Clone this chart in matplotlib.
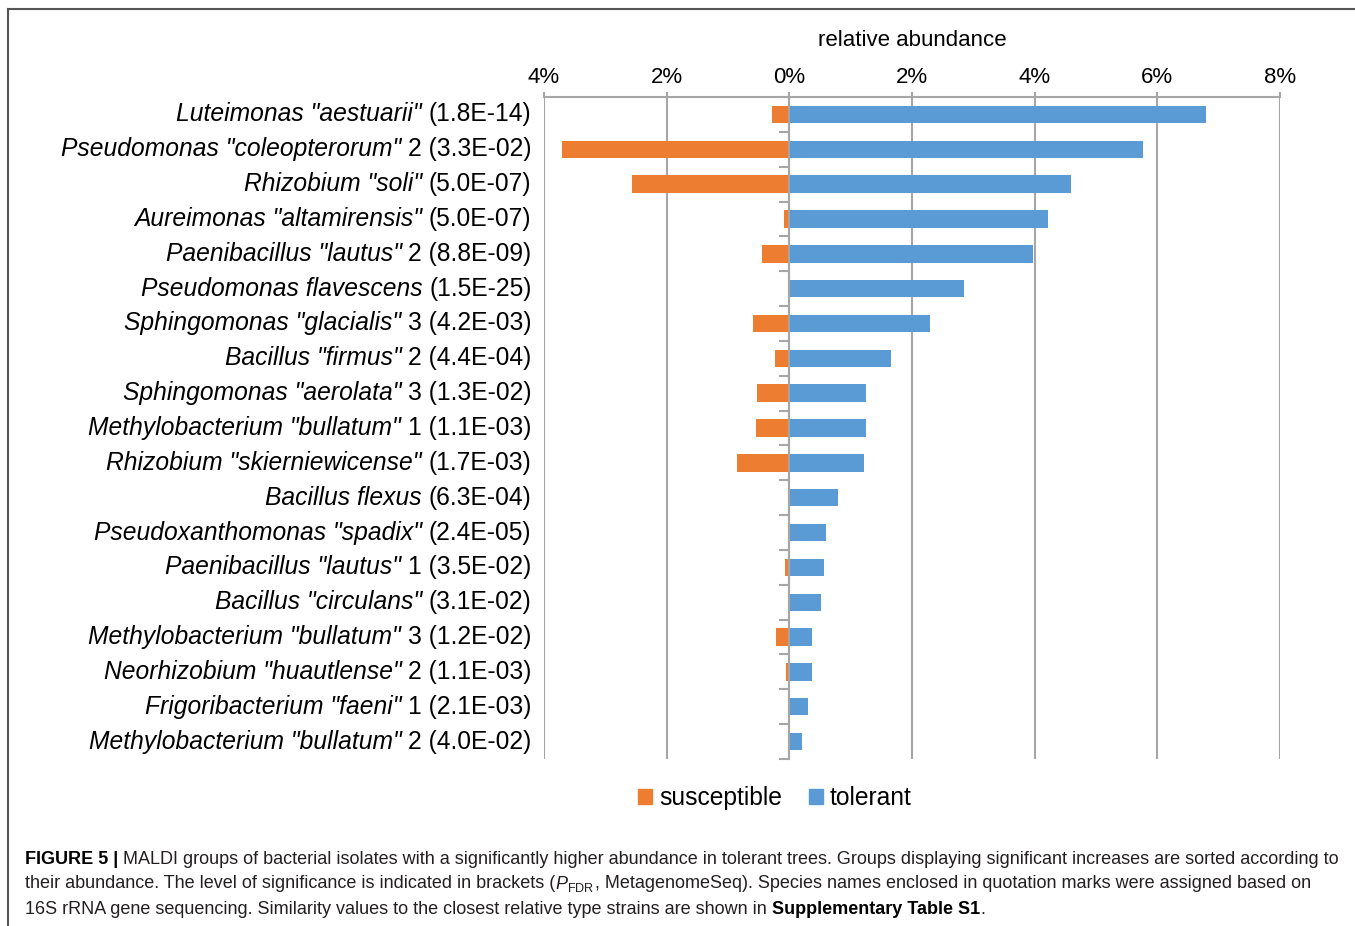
import numpy as np
import matplotlib
matplotlib.use("Agg")
import matplotlib.pyplot as plt
from matplotlib.font_manager import FontProperties
from matplotlib.patches import Patch
from matplotlib.lines import Line2D
from matplotlib.ticker import FuncFormatter, FixedLocator
from matplotlib.transforms import offset_copy

plt.rcParams['font.family'] = ['Liberation Sans', 'DejaVu Sans']
plt.rcParams['mathtext.fontset'] = 'custom'
plt.rcParams['mathtext.rm'] = 'Liberation Sans'
plt.rcParams['mathtext.it'] = 'Liberation Sans:italic'
plt.rcParams['mathtext.bf'] = 'Liberation Sans:bold'

# MALDI groups, top to bottom
names = ['Luteimonas "aestuarii"', 'Pseudomonas "coleopterorum"', 'Rhizobium "soli"',
         'Aureimonas "altamirensis"', 'Paenibacillus "lautus"', 'Pseudomonas flavescens',
         'Sphingomonas "glacialis"', 'Bacillus "firmus"', 'Sphingomonas "aerolata"',
         'Methylobacterium "bullatum"', 'Rhizobium "skierniewicense"', 'Bacillus flexus',
         'Pseudoxanthomonas "spadix"', 'Paenibacillus "lautus"', 'Bacillus "circulans"',
         'Methylobacterium "bullatum"', 'Neorhizobium "huautlense"', 'Frigoribacterium "faeni"',
         'Methylobacterium "bullatum"']
group_no = ['', '2', '', '', '2', '', '3', '2', '3', '1', '', '', '', '1', '', '3', '2', '1', '2']
p_fdr = ['1.8E-14', '3.3E-02', '5.0E-07', '5.0E-07', '8.8E-09', '1.5E-25', '4.2E-03',
         '4.4E-04', '1.3E-02', '1.1E-03', '1.7E-03', '6.3E-04', '2.4E-05', '3.5E-02',
         '3.1E-02', '1.2E-02', '1.1E-03', '2.1E-03', '4.0E-02']

# relative abundance in %
tolerant = [6.80, 5.77, 4.60, 4.21, 3.98, 2.84, 2.30, 1.65, 1.25, 1.25, 1.22, 0.79,
            0.59, 0.56, 0.51, 0.37, 0.37, 0.30, 0.21]
susceptible = [0.28, 3.70, 2.56, 0.08, 0.44, 0.0, 0.59, 0.23, 0.52, 0.54, 0.86, 0.0,
               0.0, 0.07, 0.0, 0.22, 0.05, 0.0, 0.0]

x_ticks = [-4, -2, 0, 2, 4, 6, 8]

ORANGE = '#ED7D31'
BLUE = '#5B9BD5'
GRID = '#a6a6a6'
FS = 16
FS_LAB = 17.7

W, H = 1355, 926
fig = plt.figure(figsize=(W / 100, H / 100), dpi=100)
ax = fig.add_axes([544 / W, 1 - 759 / H, (1280 - 544) / W, (759 - 97) / H])

y = np.arange(len(names))
ax.barh(y, tolerant, height=0.5, color=BLUE, zorder=3)
ax.barh(y, -np.array(susceptible), height=0.5, color=ORANGE, zorder=3)

ax.set_xlim(-4, 8)
ax.set_ylim(len(names) - 0.5, -0.5)

# percent axis on top, shown as absolute values
ax.xaxis.tick_top()
ax.xaxis.set_label_position('top')
ax.set_xticks(x_ticks)
ax.xaxis.set_major_formatter(FuncFormatter(lambda v, _: f'{abs(v):.0f}%'))
ax.tick_params(axis='x', direction='out', length=3.5, width=1.5, color=GRID,
               labelsize=FS, pad=3)
ax.set_xlabel('relative abundance', fontsize=FS, labelpad=15)
ax.grid(axis='x', color=GRID, linewidth=1.5, zorder=0)

# category axis sits on the 0% line with ticks between groups
for side in ['right', 'bottom']:
    ax.spines[side].set_visible(False)
ax.spines['left'].set_position(('data', 0))
ax.spines['left'].set_color(GRID)
ax.spines['left'].set_linewidth(1.5)
ax.spines['left'].set_zorder(4)
ax.spines['top'].set_color(GRID)
ax.spines['top'].set_linewidth(1.5)
ax.yaxis.set_major_locator(FixedLocator([]))
ax.yaxis.set_minor_locator(FixedLocator(np.arange(len(names) + 1) - 0.5))
ax.tick_params(axis='y', which='minor', direction='out', length=7, width=1.5, color=GRID)

renderer = fig.canvas.get_renderer()


def text_w(s, fp, math=False):
    # width in points
    return renderer.get_text_width_height_descent(s, fp, ismath=math)[0] * 72 / fig.dpi


fp_norm = FontProperties(family='Liberation Sans', size=FS_LAB)
fp_ital = FontProperties(family='Liberation Sans', style='italic', size=FS_LAB)
space_pt = text_w('x x', fp_norm) - text_w('xx', fp_norm)

# row labels: italic species name, then group number and P value
base = ax.get_yaxis_transform()
for i, (nm, g, p) in enumerate(zip(names, group_no, p_fdr)):
    tail = (g + ' ' if g else '') + f'({p})'
    tr = offset_copy(base, fig=fig, x=-9, y=0, units='points')
    ax.text(0, i, tail, transform=tr, ha='right', va='center', fontproperties=fp_norm)
    dx = -9 - text_w(tail, fp_norm) - space_pt
    tr2 = offset_copy(base, fig=fig, x=dx, y=0, units='points')
    ax.text(0, i, nm, transform=tr2, ha='right', va='center', fontproperties=fp_ital)

handles = [Patch(color=ORANGE, label='susceptible'), Patch(color=BLUE, label='tolerant')]
fig.legend(handles=handles, loc='center', bbox_to_anchor=(775 / W, 1 - 798 / H),
           ncol=2, frameon=False, fontsize=FS_LAB, handlelength=0.55, handleheight=0.55,
           handletextpad=0.3, columnspacing=1.1)

# frame lines on top and left
fig.add_artist(Line2D([8 / W, 1], [1 - 9 / H, 1 - 9 / H], color='#555555', lw=1.5,
                      transform=fig.transFigure))
fig.add_artist(Line2D([8 / W, 8 / W], [0, 1 - 9 / H], color='#555555', lw=1.5,
                      transform=fig.transFigure))

# caption, written run by run so bold and italic parts can mix
CAP = 13
cap_col = '#231f20'
fp_c = FontProperties(family='Liberation Sans', size=CAP)
fp_cb = FontProperties(family='Liberation Sans', size=CAP, weight='bold')
cap_space = text_w('x x', fp_c) - text_w('xx', fp_c)

caption = [
    (860, [('FIGURE 5 |', fp_cb, False, True),
           ('MALDI groups of bacterial isolates with a significantly higher abundance in '
            'tolerant trees. Groups displaying significant increases are sorted according to',
            fp_c, False, False)]),
    (884, [('their abundance. The level of significance is indicated in brackets (', fp_c, False, False),
           (r'$\mathit{P}_{\mathrm{FDR}}$', fp_c, True, False),
           (', MetagenomeSeq). Species names enclosed in quotation marks were assigned based on',
            fp_c, False, False)]),
    (909, [('16S rRNA gene sequencing. Similarity values to the closest relative type strains '
            'are shown in', fp_c, False, True),
           ('Supplementary Table S1', fp_cb, False, False),
           ('.', fp_c, False, False)]),
]
for ypx, runs in caption:
    xoff = 0.0
    for s, fp, math, gap in runs:
        tr = offset_copy(fig.transFigure, fig=fig, x=xoff, y=0, units='points')
        fig.text(25 / W, 1 - ypx / H, s, transform=tr, ha='left', va='center',
                 fontproperties=fp, color='black' if fp is fp_cb else cap_col)
        xoff += text_w(s, fp, math) + (cap_space if gap else 0)

fig.savefig('out.png', dpi=100)
